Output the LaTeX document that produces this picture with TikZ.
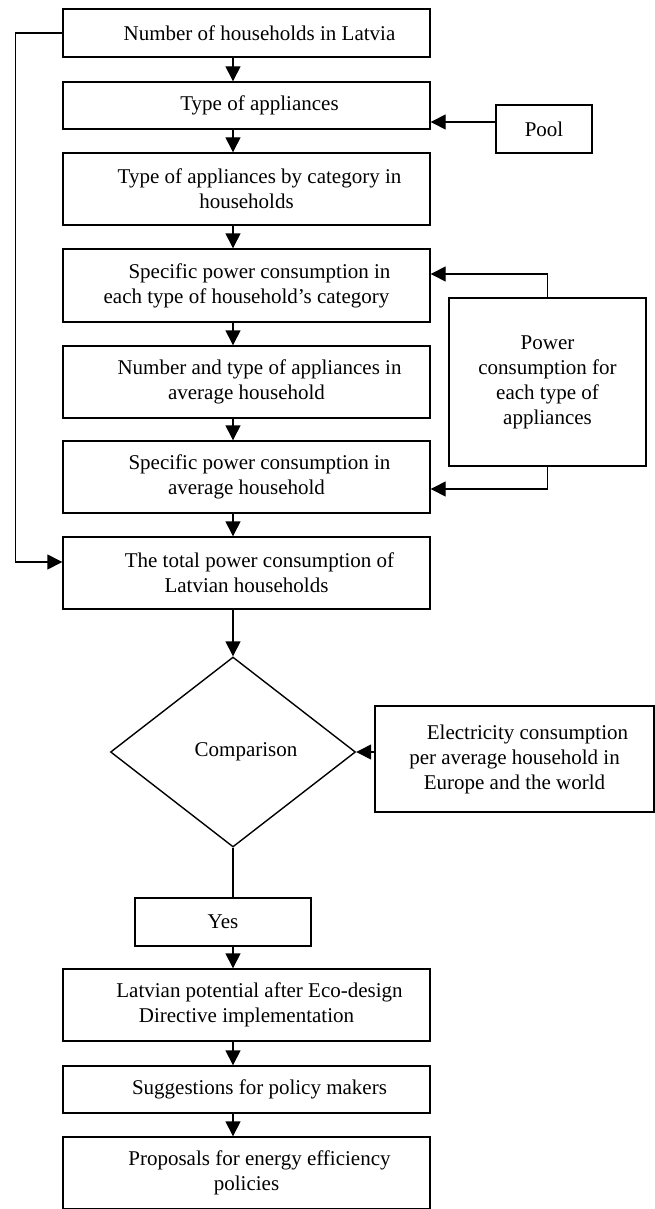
\documentclass[tikz,border=0pt]{standalone}
\usepackage{fontspec}
\setmainfont{Liberation Serif}
\usetikzlibrary{arrows.meta,shapes.geometric}

\newcommand{\ind}{\hspace*{26pt}}

\begin{document}
\begin{tikzpicture}[x=1pt,y=-1pt,
    line width=1.4pt,
    box/.style={draw,rectangle,inner sep=0pt,align=center,
        font=\fontsize{21}{25}\selectfont,minimum width=367pt},
    sidebox/.style={draw,rectangle,inner sep=0pt,align=center,
        font=\fontsize{21}{25}\selectfont},
    arr/.style={-{Triangle[length=15pt,width=15pt]}}]
    \useasboundingbox (0,0) rectangle (655,1209);

    % main column
    \node[box,minimum height=48pt] (households) at (246.5,33) {\ind Number of households in Latvia};
    \node[box,minimum height=47pt] (types) at (246.5,105.5) {\ind Type of appliances};
    \node[box,minimum height=72pt] (category) at (246.5,189) {\ind Type of appliances by category in\\households};
    \node[box,minimum height=73pt] (specific) at (246.5,285.5) {\ind Specific power consumption in\\each type of household's category};
    \node[box,minimum height=72pt] (number) at (246.5,382) {\ind Number and type of appliances in\\average household};
    \node[box,minimum height=72pt] (average) at (246.5,477) {\ind Specific power consumption in\\average household};
    \node[box,minimum height=72pt] (total) at (246.5,573) {\ind The total power consumption of\\Latvian households};

    \node[draw,diamond,inner sep=0pt,minimum width=245pt,minimum height=190pt,
        font=\fontsize{21}{25}\selectfont] (compare) at (233,752) {\ind Comparison};

    \node[sidebox,minimum width=176pt,minimum height=48pt] (yes) at (223,922) {Yes};
    \node[box,minimum height=72pt] (potential) at (246.5,1005) {\ind Latvian potential after Eco-design\\Directive implementation};
    \node[box,minimum height=47pt] (suggest) at (246.5,1089.5) {\ind Suggestions for policy makers};
    \node[box,minimum height=72pt] (proposal) at (246.5,1173) {\ind Proposals for energy efficiency\\policies};

    % side inputs
    \node[sidebox,minimum width=96pt,minimum height=48pt] (pool) at (544,129) {Pool};
    \node[sidebox,minimum width=197pt,minimum height=168pt] (power) at (547.5,382) {Power\\consumption for\\each type of\\appliances};
    \node[sidebox,minimum width=279pt,minimum height=106pt] (europe) at (514.5,759) {\ind Electricity consumption\\per average household in\\Europe and the world};

    % arrows down the column
    \draw[arr] (households.south -| compare.north) -- (types.north -| compare.north);
    \draw[arr] (types.south -| compare.north) -- (category.north -| compare.north);
    \draw[arr] (category.south -| compare.north) -- (specific.north -| compare.north);
    \draw[arr] (specific.south -| compare.north) -- (number.north -| compare.north);
    \draw[arr] (number.south -| compare.north) -- (average.north -| compare.north);
    \draw[arr] (average.south -| compare.north) -- (total.north -| compare.north);
    \draw[arr] (total.south -| compare.north) -- (compare.north);
    \draw (compare.south) -- (compare.south |- yes.north);
    \draw[arr] (yes.south -| compare.south) -- (potential.north -| compare.south);
    \draw[arr] (potential.south -| compare.south) -- (suggest.north -| compare.south);
    \draw[arr] (suggest.south -| compare.south) -- (proposal.north -| compare.south);

    % feedback and inputs
    \draw[arr] (households.west) -- ++(-47,0) |- ([yshift=11pt]total.west);
    \draw[arr] ([yshift=7pt]pool.west) -- ([yshift=7pt]pool.west -| types.east);
    \draw[arr] (power.north) |- ([yshift=11.5pt]specific.east);
    \draw[arr] (power.south) |- ([yshift=-12pt]average.east);
    \draw[arr] (europe.west |- compare.east) -- (compare.east);

\end{tikzpicture}
\end{document}
